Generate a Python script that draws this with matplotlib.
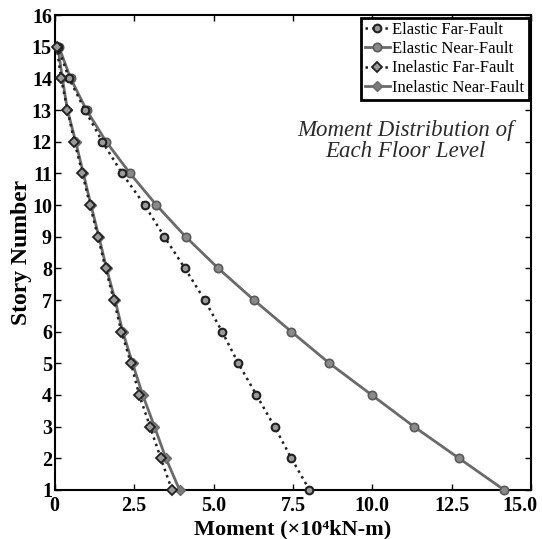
import matplotlib.pyplot as plt
import matplotlib.transforms as mtransforms
import numpy as np

# story levels and moments (x10^4 kN-m)
stories = np.arange(1, 16)
elastic_far = [8.02, 7.45, 6.92, 6.35, 5.78, 5.27, 4.72, 4.10, 3.45, 2.83, 2.12, 1.50, 0.95, 0.45, 0.10]
elastic_near = [14.15, 12.73, 11.31, 9.98, 8.65, 7.45, 6.27, 5.15, 4.12, 3.20, 2.37, 1.62, 1.00, 0.50, 0.13]
inelastic_far = [3.69, 3.34, 3.00, 2.66, 2.40, 2.10, 1.86, 1.60, 1.36, 1.11, 0.87, 0.62, 0.40, 0.20, 0.06]
inelastic_near = [3.93, 3.50, 3.14, 2.77, 2.45, 2.14, 1.90, 1.63, 1.39, 1.14, 0.90, 0.66, 0.40, 0.24, 0.10]

x_ticks = [0, 2.5, 5.0, 7.5, 10.0, 12.5, 15.0]
x_tick_labels = ["0", "2.5", "5.0", "7.5", "10.0", "12.5", "15.0"]

plt.rcParams['font.family'] = ['Liberation Serif', 'DejaVu Serif']

fig = plt.figure(figsize=(5.42, 5.39), dpi=100)
ax = fig.add_axes([0.101, 0.091, 0.879, 0.881])

dark = "#202020"
gray = "#6a6a6a"

ax.plot(elastic_far, stories, linestyle=":", color=dark, linewidth=1.8,
        marker="o", markersize=5.5, markerfacecolor="#9a9a9a", markeredgecolor=dark,
        markeredgewidth=1.5, label="Elastic Far-Fault", clip_on=False, zorder=4)
ax.plot(elastic_near, stories, linestyle="-", color=gray, linewidth=2.0,
        marker="o", markersize=6, markerfacecolor="#8a8a8a", markeredgecolor="#5a5a5a",
        markeredgewidth=1.2, label="Elastic Near-Fault", clip_on=False, zorder=3)
ax.plot(inelastic_far, stories, linestyle=":", color=dark, linewidth=1.8,
        marker="D", markersize=5, markerfacecolor="#9a9a9a", markeredgecolor=dark,
        markeredgewidth=1.3, label="Inelastic Far-Fault", clip_on=False, zorder=4)
ax.plot(inelastic_near, stories, linestyle="-", color=gray, linewidth=2.0,
        marker="D", markersize=5.5, markerfacecolor="#7a7a7a", markeredgecolor="#6a6a6a",
        markeredgewidth=1.0, label="Inelastic Near-Fault", clip_on=False, zorder=3)

ax.set_xlim(0, 15)
ax.set_ylim(1, 16)
ax.set_xticks(x_ticks)
ax.set_xticklabels(x_tick_labels)
ax.set_yticks(range(1, 17))
ax.tick_params(direction="in", top=True, right=True, length=4, width=1, labelsize=14.5)
ax.tick_params(axis="x", pad=4)
ax.tick_params(axis="y", pad=2)
for lbl in ax.get_xticklabels() + ax.get_yticklabels():
    lbl.set_fontweight("bold")
# last x label sits a bit left so it stays inside the figure
last = ax.get_xticklabels()[-1]
last.set_transform(last.get_transform() + mtransforms.ScaledTranslation(-11 / 100, 0, fig.dpi_scale_trans))
for sp in ax.spines.values():
    sp.set_linewidth(1.5)

ax.set_xlabel("Moment (×10⁴kN-m)", fontsize=16, fontweight="bold", labelpad=3)
ax.set_ylabel("Story Number", fontsize=17, fontweight="bold", labelpad=0)

leg = ax.legend(loc="upper right", fontsize=12, handlelength=1.5, handletextpad=0.15,
                borderpad=0.25, labelspacing=0.2, borderaxespad=0.15, fancybox=False,
                framealpha=1)
leg.get_frame().set_edgecolor("black")
leg.get_frame().set_linewidth(2)

ax.text(0.737, 0.735, "Moment Distribution of\nEach Floor Level", transform=ax.transAxes,
        ha="center", va="center", fontsize=16.5, fontstyle="italic", color="#2a2a2a",
        linespacing=1.05)

fig.savefig("out.png", dpi=100)
plt.close(fig)
